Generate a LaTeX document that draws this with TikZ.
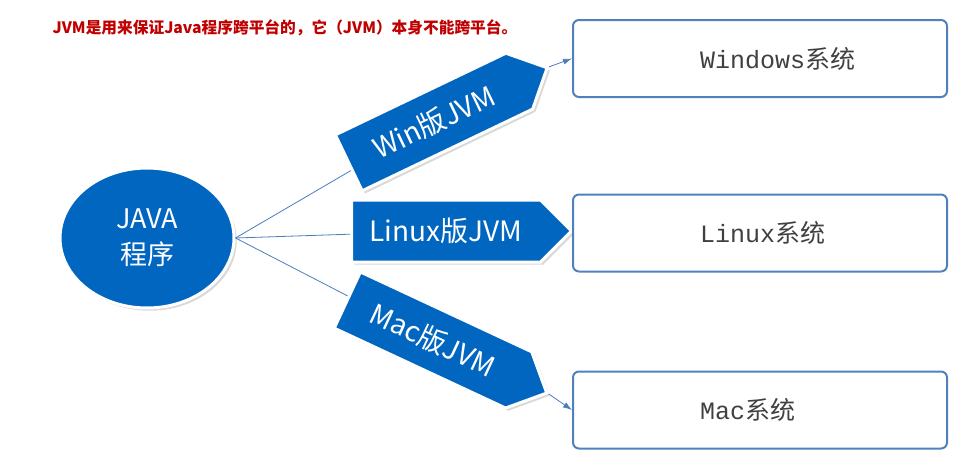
\documentclass[tikz,border=0pt]{standalone}
\usepackage{fontspec}
\setmainfont{Noto Sans CJK SC}
\newfontfamily\monofam{Liberation Mono}
\usetikzlibrary{shapes.geometric,shapes.symbols,arrows.meta,shadows}
\definecolor{jvmblue}{HTML}{0066C0}
\definecolor{boxline}{HTML}{4F81BD}
\definecolor{linkline}{HTML}{4A7EBB}
\definecolor{titlered}{HTML}{C00000}
\definecolor{systext}{HTML}{404040}
\begin{document}
\begin{tikzpicture}[x=1pt, y=-1pt, every node/.style={inner sep=0pt},
    jvm/.style={signal, signal to=east, fill=jvmblue, draw=white, line width=3pt, text=white,
      minimum width=220pt, minimum height=62pt, font=\fontsize{28}{32}\selectfont,
      drop shadow={opacity=0.3}},
    sys/.style={draw=boxline, line width=2pt, rounded corners=6pt, minimum width=374pt,
      minimum height=77pt, text=systext, font=\fontsize{25}{28}\selectfont},
    link/.style={draw=linkline, line width=0.8pt}]
  \useasboundingbox (0,0) rectangle (971,471);
  \node[text=titlered, font=\bfseries\fontsize{15.7}{18}\selectfont] (title) at (285,28)
    {JVM是用来保证Java程序跨平台的，它（JVM）本身不能跨平台。};
  \node[ellipse, fill=jvmblue, draw=white, line width=3pt, text=white, minimum width=174pt,
    minimum height=140pt, align=center, font=\fontsize{27}{36}\selectfont,
    drop shadow={opacity=0.3}] (java) at (147,238) {JAVA\\程序};
  \node[jvm, rotate=25.6] (win) at (434,122) {Win版JVM};
  \node[jvm] (linux) at (446,231) {Linux版JVM};
  \node[jvm, rotate=-25] (mac) at (433,340) {Mac版JVM};
  \node[sys] (windows) at (760,58.5) {\makebox[120pt][l]{{\monofam Windows}系统}};
  \node[sys] (linuxos) at (760,233) {\makebox[120pt][l]{{\monofam Linux}系统}};
  \node[sys] (macos) at (760,410) {\makebox[120pt][l]{{\monofam Mac}系统}};
  \draw[link] (java.east) -- (win);
  \draw[link] (java.east) -- (linux);
  \draw[link] (java.east) -- (mac);
  \draw[link, -{Latex[length=9pt, width=6pt]}] (win.east) -- (windows.west);
  \draw[link, -{Latex[length=9pt, width=6pt]}] (mac.east) -- (macos.west);
\end{tikzpicture}
\end{document}
